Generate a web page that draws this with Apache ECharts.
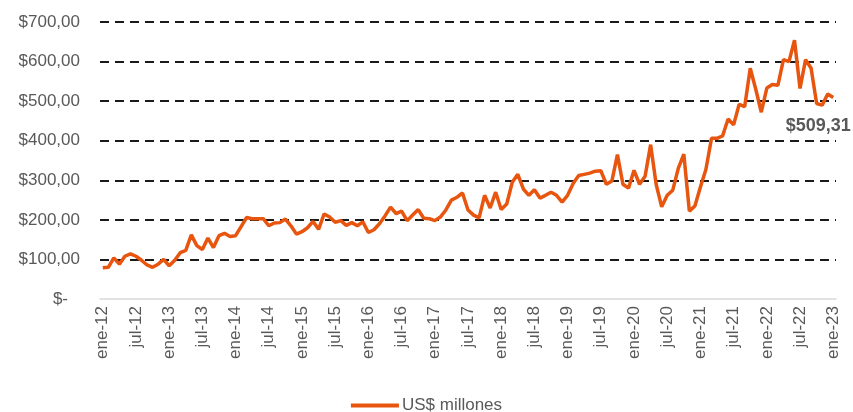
<!DOCTYPE html>
<html>
<head>
<meta charset="utf-8">
<script src="https://cdn.jsdelivr.net/npm/echarts@6/dist/echarts.min.js"></script>
<style>
	html, body { margin: 0; padding: 0; background: #fff; }
	#chart { width: 853px; height: 412px; }
</style>
</head>
<body>
<div id="chart"></div>
<script>
// meses (eje X)
var meses = ['ene', 'feb', 'mar', 'abr', 'may', 'jun', 'jul', 'ago', 'sep', 'oct', 'nov', 'dic'];
var anios = ['12', '13', '14', '15', '16', '17', '18', '19', '20', '21', '22', '23'];

// US$ millones, por año
var v2012 = [79, 80, 104, 88, 108, 114, 108, 98, 86, 80, 88, 100];
var v2013 = [84, 98, 117, 123, 162, 135, 125, 154, 130, 160, 166, 158];
var v2014 = [160, 183, 206, 203, 203, 203, 185, 192, 193, 202, 185, 164];
var v2015 = [170, 180, 196, 176, 215, 207, 194, 198, 186, 193, 185, 195];
var v2016 = [168, 175, 190, 210, 232, 216, 222, 198, 212, 226, 204, 203];
var v2017 = [198, 207, 225, 250, 257, 268, 225, 212, 205, 262, 230, 270];
var v2018 = [226, 240, 295, 315, 278, 262, 276, 255, 262, 270, 262, 245];
var v2019 = [262, 292, 312, 315, 318, 323, 324, 290, 298, 365, 290, 280];
var v2020 = [325, 290, 310, 390, 290, 233, 262, 275, 330, 366, 222, 235];
var v2021 = [283, 328, 406, 406, 412, 455, 440, 492, 486, 583, 530, 472];
var v2022 = [533, 542, 540, 605, 600, 654, 532, 605, 583, 494, 490, 518];
var v2023 = [509.31];

var valores = [].concat(v2012, v2013, v2014, v2015, v2016, v2017, v2018, v2019, v2020, v2021, v2022, v2023);

var categorias = [];
for (var a = 0; a < anios.length; a++) {
	for (var m = 0; m < meses.length; m++) {
		if (categorias.length < valores.length) {
			categorias.push(meses[m] + '-' + anios[a]);
		}
	}
}

var gris = '#595959';
var naranja = '#E8550F';
var negro = '#1a1a1a';

function fmtMoneda(v) {
	return '$' + v.toFixed(2).replace('.', ',');
}

// ultimo punto con etiqueta
var serieData = [];
for (var i = 0; i < valores.length; i++) {
	if (i == valores.length - 1) {
		serieData.push({
			value: valores[i],
			label: {
				show: true,
				position: 'bottom',
				distance: 20,
				offset: [-15, 0],
				formatter: function (p) { return fmtMoneda(p.value); },
				color: gris,
				fontWeight: 'bold',
				fontSize: 18,
				fontFamily: 'Liberation Sans, Arial, sans-serif'
			}
		});
	} else {
		serieData.push(valores[i]);
	}
}

var chart = echarts.init(document.getElementById('chart'));
var option = {
	animation: false,
	textStyle: { fontFamily: 'Liberation Sans, Arial, sans-serif' },
	grid: { left: 100, right: 17, top: 22, bottom: 113, containLabel: false },
	legend: {
		top: 392,
		left: 'center',
		icon: 'rect',
		itemWidth: 48,
		itemHeight: 4,
		itemGap: 10,
		textStyle: { color: gris, fontSize: 17, padding: [0, 0, 0, -2] },
		data: ['US$ millones']
	},
	xAxis: {
		type: 'category',
		data: categorias,
		boundaryGap: true,
		z: 3,
		axisLine: { show: true, lineStyle: { color: '#d9d9d9', width: 1.5 } },
		axisTick: { show: false },
		axisLabel: {
			interval: 5,
			rotate: 90,
			margin: 7,
			color: gris,
			fontSize: 17
		},
		splitLine: { show: false }
	},
	yAxis: {
		type: 'value',
		min: 0,
		max: 700,
		interval: 100,
		axisLine: { show: false },
		axisTick: { show: false },
		axisLabel: {
			margin: 20,
			color: gris,
			fontSize: 17,
			formatter: function (v) {
				if (v === 0) return '{z|$-}';
				return fmtMoneda(v);
			},
			rich: {
				z: { color: gris, fontSize: 17, padding: [0, 12, 0, 0] }
			}
		},
		splitLine: {
			show: true,
			// la linea del cero no va punteada
			lineStyle: {
				color: ['rgba(0,0,0,0)', negro, negro, negro, negro, negro, negro, negro],
				width: 1.8,
				type: [9, 6]
			}
		}
	},
	series: [{
		name: 'US$ millones',
		type: 'line',
		data: serieData,
		showSymbol: true,
		symbol: 'circle',
		symbolSize: 0,
		lineStyle: { color: naranja, width: 3.5 },
		itemStyle: { color: naranja },
		z: 2
	}]
};
chart.setOption(option);
</script>
</body>
</html>
